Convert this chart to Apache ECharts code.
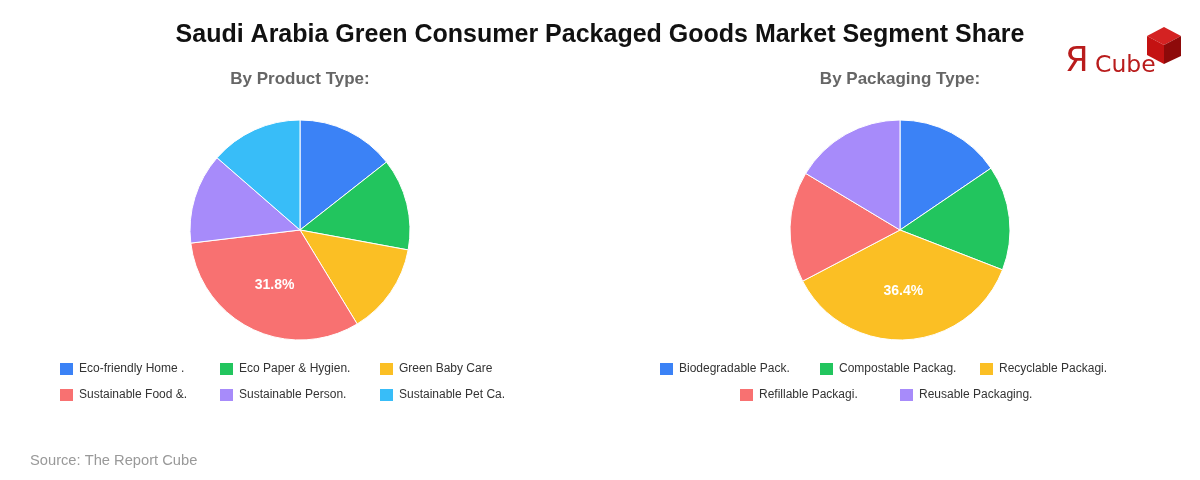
<!DOCTYPE html>
<html>
<head>
<meta charset="utf-8">
<title>Saudi Arabia Green CPG Market Segment Share</title>
<script src="https://cdn.jsdelivr.net/npm/echarts@6/dist/echarts.min.js"></script>
<style>
  html, body { margin: 0; padding: 0; background: #fff; }
  #chart { width: 1200px; height: 480px; }
</style>
</head>
<body>
<div id="chart"></div>
<script>
var productNames = ['Eco-friendly Home .', 'Eco Paper & Hygien.', 'Green Baby Care',
    'Sustainable Food &.', 'Sustainable Person.', 'Sustainable Pet Ca.'];
var productValues = [14.4, 13.5, 13.4, 31.8, 13.3, 13.6];

var packagingNames = ['Biodegradable Pack.', 'Compostable Packag.', 'Recyclable Packagi.',
    'Refillable Packagi.', 'Reusable Packaging.'];
var packagingValues = [15.5, 15.4, 36.4, 16.3, 16.4];

var colors = ['#3B82F6', '#22C55E', '#FBBF24', '#F87171', '#A78BFA', '#38BDF8'];

var FONT = 'Liberation Sans, Arial, sans-serif';

// legend slots (x of the swatch, y of the row) - 3 per row, 160px apart
var productSlots = [[60, 361], [220, 361], [380, 361], [60, 387], [220, 387], [380, 387]];
var packagingSlots = [[660, 361], [820, 361], [980, 361], [740, 387], [900, 387]];

var chart = echarts.init(document.getElementById('chart'));

function toData(names, values) {
    return names.map(function (n, i) {
        return { name: n, value: values[i], itemStyle: { color: colors[i] } };
    });
}

// only the big slice gets a label
function bigLabel(p) {
    return p.percent > 20 ? p.percent.toFixed(1) + '%' : '';
}

function pieSeries(center, names, values) {
    return {
        type: 'pie',
        center: center,
        radius: 110,
        startAngle: 90,
        clockwise: true,
        animation: false,
        itemStyle: { borderColor: '#fff', borderWidth: 1 },
        label: {
            show: true,
            position: 'inside',
            formatter: bigLabel,
            offset: [0, 3],
            color: '#fff',
            fontSize: 14,
            fontWeight: 'bold',
            fontFamily: FONT
        },
        labelLine: { show: false },
        emphasis: { disabled: true },
        data: toData(names, values)
    };
}

// one small legend per item so each sits in its own fixed slot
function legendItems(names, slots) {
    return names.map(function (n, i) {
        return {
            left: slots[i][0] - 2,
            top: slots[i][1],
            padding: 0,
            icon: 'rect',
            itemWidth: 15,
            itemHeight: 14,
            itemGap: 5,
            selectedMode: false,
            textStyle: { color: '#333', fontSize: 12, fontFamily: FONT },
            data: [n]
        };
    });
}

var option = {
    backgroundColor: '#fff',
    title: [{
        text: 'Saudi Arabia Green Consumer Packaged Goods Market Segment Share',
        left: 'center',
        top: 23,
        padding: 0,
        textStyle: { fontSize: 25, fontWeight: 'bold', color: '#111', fontFamily: FONT }
    }, {
        text: 'By Product Type:',
        left: 300,
        textAlign: 'center',
        top: 71,
        padding: 0,
        textStyle: { fontSize: 17, fontWeight: 'bold', color: '#666', fontFamily: FONT }
    }, {
        text: 'By Packaging Type:',
        left: 900,
        textAlign: 'center',
        top: 71,
        padding: 0,
        textStyle: { fontSize: 17, fontWeight: 'bold', color: '#666', fontFamily: FONT }
    }, {
        text: 'Source: The Report Cube',
        left: 30,
        top: 453,
        padding: 0,
        textStyle: { fontSize: 14.7, fontWeight: 'normal', color: '#999', fontFamily: FONT }
    }],
    legend: legendItems(productNames, productSlots).concat(legendItems(packagingNames, packagingSlots)),
    series: [
        pieSeries([300, 230], productNames, productValues),
        pieSeries([900, 230], packagingNames, packagingValues)
    ],
    graphic: [
        { type: 'text', x: 1065, y: 62,
          style: { text: 'Я', fill: '#B91C1C', font: '34px DejaVu Sans', verticalAlign: 'middle' } },
        { type: 'text', x: 1095, y: 66,
          style: { text: 'Cube', fill: '#B91C1C', font: '23.5px DejaVu Sans', verticalAlign: 'middle' } },
        { type: 'polygon', shape: { points: [[1164, 27], [1181, 36], [1164, 45], [1147, 36]] },
          style: { fill: '#D42222' } },
        { type: 'polygon', shape: { points: [[1147, 36], [1164, 45], [1164, 64], [1147, 55]] },
          style: { fill: '#C41212' } },
        { type: 'polygon', shape: { points: [[1164, 45], [1181, 36], [1181, 56], [1164, 64]] },
          style: { fill: '#8E0A0A' } }
    ]
};

chart.setOption(option);
</script>
</body>
</html>
